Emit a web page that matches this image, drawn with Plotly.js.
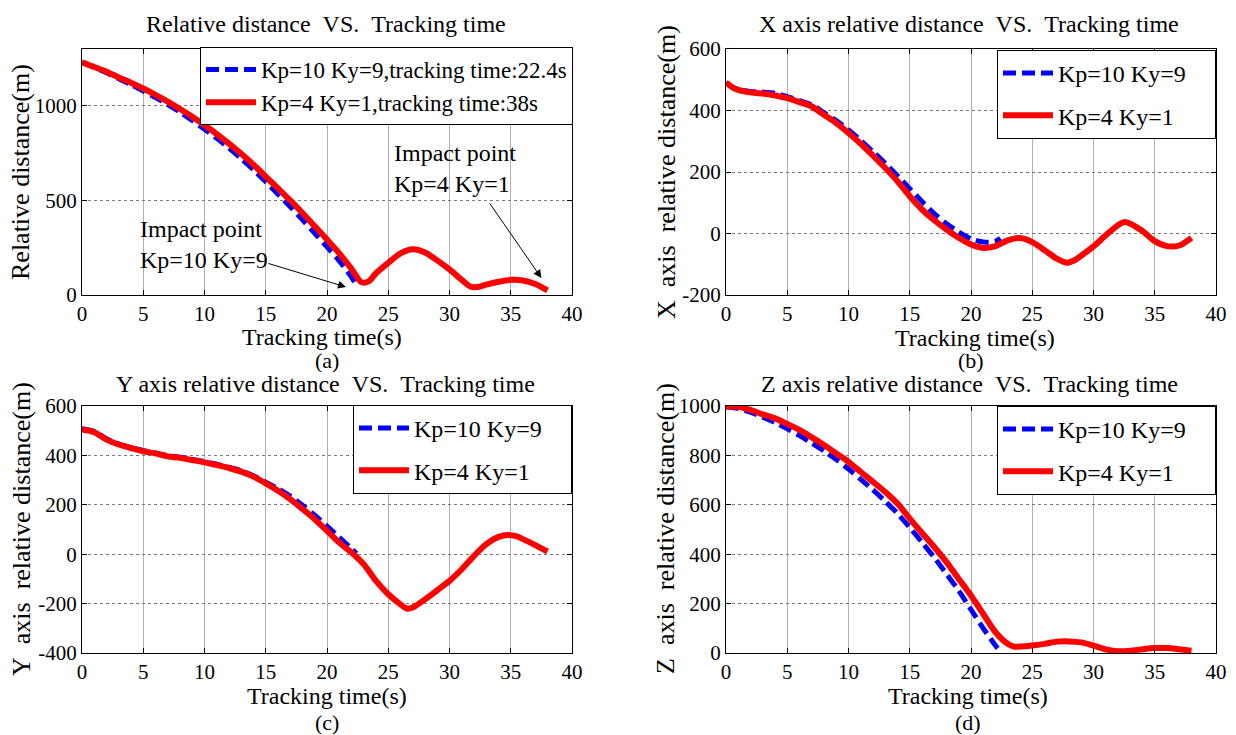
<!DOCTYPE html>
<html>
<head>
<meta charset="utf-8">
<script src="https://cdn.plot.ly/plotly-3.0.1.min.js"></script>
<style>html,body{margin:0;padding:0;background:#fff;}#chart{width:1236px;height:735px;}</style>
</head>
<body>
<div id="chart"></div>
<script>
// ---------- data ----------
// (a) relative distance
var tA_blue = [0,1,2,3,4,5,6,7,8,9,10,11,12,13,14,15,16,17,18,19,20,21,22,22.4];
var rA_blue = [1230,1202,1174,1143,1112,1078,1043,1006,966,922,876,828,776,720,661,598,533,466,397,326,254,180,95,50];
var tA_red = [0,1,2,3,4,5,6,7,8,9,10,11,12,13,14,15,16,17,18,19,20,21,22,22.8,23.4,24,25,26,27,28,29,30,31,31.7,32.3,33,34,35,36,37,38];
var rA_red = [1230,1205,1180,1150,1122,1091,1058,1022,983,942,898,850,800,746,688,626,563,500,433,363,293,220,138,68,72,115,170,220,242,225,183,135,80,45,42,55,70,80,77,58,25];

// (b) X axis relative distance
var tB_blue = [0,0.5,1,2,3,4,5,6,7,8,9,10,11,12,13,14,15,16,17,18,19,20,21,22,22.4];
var xB_blue = [491,476,468,462,460,456,445,432,418,393,367,337,303,266,228,188,146,104,65,32,5,-17,-28,-25,-15];
var tB_red = [0,0.5,1,2,3.5,5,6,7,8,9,10,11,12,13,14,15,16,17,18,19,20,21,22,23,24,25,26,27,27.8,28.5,29,30,31,32,32.5,33,34,35,36,37,38];
var xB_red = [491,476,467,459,453,440,427,413,386,359,327,292,253,213,170,121,78,43,13,-14,-36,-47,-41,-22,-15,-28,-54,-82,-95,-86,-72,-42,-6,27,37,32,8,-25,-41,-39,-14];

// (c) Y axis relative distance
var tC_blue = [0,1,2,3,4,5,6,7,8,9,10,11,12,13,14,15,16,17,18,19,20,21,22,22.4];
var yC_blue = [508,497,467,446,432,419,410,399,393,384,375,364,352,338,318,292,265,235,198,158,114,68,22,3];
var tC_red = [0,1,2,3,4,5,6,7,8,9,10,11,12,13,14,15,16,17,18,19,20,21,22,23,24,25,26,26.5,27,28,29,30,31,32,33,34,34.8,35.5,36,37,38];
var yC_red = [505,494,464,444,430,417,408,396,390,381,372,361,349,334,314,287,257,223,183,142,95,47,7,-41,-108,-162,-203,-220,-216,-183,-146,-108,-61,-7,41,70,78,72,61,37,11];

// (d) Z axis relative distance
var tD_blue = [0,1,2,3,4,5,6,7,8,9,10,11,12,13,14,15,16,17,18,19,20,21,22,22.4];
var zD_blue = [997,990,975,955,933,908,880,850,818,783,745,703,660,614,565,508,448,387,320,252,176,100,30,5];
var tD_red = [0,1,2,3,4,5,6,7,8,9,10,11,12,13,14,15,16,17,18,19,20,21,22,23,23.5,24,25,26,27,28,29,30,31,32,33,34,35,36,37,38];
var zD_red = [997,997,984,966,950,927,903,873,842,808,774,733,693,652,605,544,486,429,368,300,233,158,84,37,26,26,30,37,46,47,43,30,15,7,9,15,20,20,15,9];

// labels
var nameBlueA = 'Kp=10 Ky=9,tracking time:22.4s';
var nameRedA = 'Kp=4 Ky=1,tracking time:38s';
var nameBlue = 'Kp=10 Ky=9';
var nameRed = 'Kp=4 Ky=1';
var titles = ['Relative distance\u00a0\u00a0VS.\u00a0\u00a0Tracking time',
              'X axis relative distance\u00a0\u00a0VS.\u00a0\u00a0Tracking time',
              'Y axis relative distance\u00a0\u00a0VS.\u00a0\u00a0Tracking time',
              'Z axis relative distance\u00a0\u00a0VS.\u00a0\u00a0Tracking time'];
var yTitles = ['Relative distance(m)', 'X\u00a0\u00a0axis\u00a0\u00a0relative distance(m)',
               'Y\u00a0\u00a0axis\u00a0\u00a0relative distance(m)', 'Z\u00a0\u00a0axis\u00a0\u00a0relative distance(m)'];
var xTitle = 'Tracking time(s)';
var panelLabels = ['(a)', '(b)', '(c)', '(d)'];
var xTicks = [0,5,10,15,20,25,30,35,40];
var yTicksA = [0,500,1000];
var yTicksB = [-200,0,200,400,600];
var yTextB = ['-200','0','200','400','600'];
var yTicksC = [-400,-200,0,200,400,600];
var yTextC = ['-400','-200','0','200','400','600'];
var yTicksD = [0,200,400,600,800,1000];
var yTextD = ['0','200','400','600','800','1000'];

// ---------- styling ----------
var FONT = 'Liberation Serif';
var BLUE = '#0000ff', RED = '#ff0000';
var PAD = '\u00a0\u00a0\u00a0\u00a0'; // right padding inside the small legend boxes

function blueLine() { return {color: BLUE, width: 5, dash: '13px,6px', shape: 'spline', smoothing: 0.8}; }
function redLine() { return {color: RED, width: 6, shape: 'spline', smoothing: 0.8}; }

var traces = [
  {x: tA_blue, y: rA_blue, name: nameBlueA, xaxis: 'x', yaxis: 'y', legend: 'legend', legendgroup: 'a1', mode: 'lines', line: blueLine()},
  {x: tA_red, y: rA_red, name: nameRedA, xaxis: 'x', yaxis: 'y', legend: 'legend', legendgroup: 'a2', mode: 'lines', line: redLine()},
  {x: tB_blue, y: xB_blue, name: nameBlue + PAD, xaxis: 'x2', yaxis: 'y2', legend: 'legend2', legendgroup: 'b1', mode: 'lines', line: blueLine()},
  {x: tB_red, y: xB_red, name: nameRed, xaxis: 'x2', yaxis: 'y2', legend: 'legend2', legendgroup: 'b2', mode: 'lines', line: redLine()},
  {x: tC_blue, y: yC_blue, name: nameBlue + PAD, xaxis: 'x3', yaxis: 'y3', legend: 'legend3', legendgroup: 'c1', mode: 'lines', line: blueLine()},
  {x: tC_red, y: yC_red, name: nameRed, xaxis: 'x3', yaxis: 'y3', legend: 'legend3', legendgroup: 'c2', mode: 'lines', line: redLine()},
  {x: tD_blue, y: zD_blue, name: nameBlue + PAD, xaxis: 'x4', yaxis: 'y4', legend: 'legend4', legendgroup: 'd1', mode: 'lines', line: blueLine()},
  {x: tD_red, y: zD_red, name: nameRed, xaxis: 'x4', yaxis: 'y4', legend: 'legend4', legendgroup: 'd2', mode: 'lines', line: redLine()}
];

var W = 1236, H = 735;
function px(v) { return v / W; }
function py(v) { return 1 - v / H; }

function xAxis(dom, anchor) {
  return {domain: dom, anchor: anchor, range: [0, 40], tickvals: xTicks, ticks: 'inside', ticklen: 5,
    tickcolor: '#000', showline: true, linecolor: '#000', linewidth: 1, mirror: 'ticks',
    showgrid: true, gridcolor: '#b0b0b0', gridwidth: 1, zeroline: false,
    tickfont: {family: FONT, size: 21, color: '#000'}, fixedrange: true};
}
function yAxis(dom, anchor, range, vals, text) {
  var a = {domain: dom, anchor: anchor, range: range, tickvals: vals, ticks: 'inside', ticklen: 5,
    tickcolor: '#000', showline: true, linecolor: '#000', linewidth: 1, mirror: 'ticks',
    showgrid: true, gridcolor: '#7a7a7a', griddash: 'dot', gridwidth: 1, zeroline: false,
    tickfont: {family: FONT, size: 21, color: '#000'}, fixedrange: true};
  if (text) a.ticktext = text;
  return a;
}

var xL = [px(82), px(572)], xR = [px(726), px(1216)];
var yT = [py(295), py(49)], yB = [py(653), py(406)];

function legendAt(xRight, yTop, gap, fs) {
  return {x: xRight, y: yTop, xanchor: 'right', yanchor: 'top', bgcolor: '#fff', bordercolor: '#000', borderwidth: 1,
    font: {family: FONT, size: fs, color: '#000'}, itemwidth: 50, tracegroupgap: gap};
}

var ann = [];
function addText(text, x, y, size, extra) {
  var a = {text: text, xref: 'paper', yref: 'paper', x: px(x), y: py(y), showarrow: false,
    xanchor: 'center', yanchor: 'middle', font: {family: FONT, size: size, color: '#000'}};
  if (extra) for (var k in extra) a[k] = extra[k];
  ann.push(a);
}
// subplot titles
addText(titles[0], 326, 24, 24);
addText(titles[1], 969, 24, 24);
addText(titles[2], 326, 384, 24);
addText(titles[3], 969, 384, 24);
// x titles
addText(xTitle, 322, 337, 24);
addText(xTitle, 975, 338, 24);
addText(xTitle, 327, 696, 24);
addText(xTitle, 968, 696, 24);
// y titles
addText(yTitles[0], 20, 172, 26, {textangle: -90});
addText(yTitles[1], 666, 172, 26, {textangle: -90});
addText(yTitles[2], 21, 529, 26, {textangle: -90});
addText(yTitles[3], 665, 529, 26, {textangle: -90});
// panel labels
addText(panelLabels[0], 327, 360, 22);
addText(panelLabels[1], 971, 360, 22);
addText(panelLabels[2], 327, 722, 22);
addText(panelLabels[3], 968, 722, 22);
// impact point notes in (a)
addText('Impact point<br>Kp=10 Ky=9', 138, 245, 24, {xanchor: 'left', align: 'left'});
addText('Impact point<br>Kp=4 Ky=1', 392, 169, 24, {xanchor: 'left', align: 'left'});
ann.push({xref: 'x', yref: 'y', axref: 'x', ayref: 'y', x: 21.55, y: 42, ax: 15.1, ay: 169, text: '',
  showarrow: true, arrowhead: 2, arrowsize: 1.6, arrowwidth: 1, arrowcolor: '#000'});
ann.push({xref: 'x', yref: 'y', axref: 'x', ayref: 'y', x: 37.5, y: 90, ax: 33.2, ay: 492, text: '',
  showarrow: true, arrowhead: 2, arrowsize: 1.6, arrowwidth: 1, arrowcolor: '#000'});

var layout = {
  width: W, height: H, margin: {l: 0, r: 0, t: 0, b: 0}, paper_bgcolor: '#fff', plot_bgcolor: '#fff',
  font: {family: FONT, color: '#000'}, showlegend: true,
  xaxis: xAxis(xL, 'y'), yaxis: yAxis(yT, 'x', [0, 1300], yTicksA),
  xaxis2: xAxis(xR, 'y2'), yaxis2: yAxis(yT, 'x2', [-200, 600], yTicksB, yTextB),
  xaxis3: xAxis(xL, 'y3'), yaxis3: yAxis(yB, 'x3', [-400, 600], yTicksC, yTextC),
  xaxis4: xAxis(xR, 'y4'), yaxis4: yAxis(yB, 'x4', [0, 1000], yTicksD, yTextD),
  legend: legendAt(px(573), py(47), 0, 23),
  legend2: legendAt(px(1216), py(50), 8, 24),
  legend3: legendAt(px(572), py(405), 8, 24),
  legend4: legendAt(px(1216), py(406), 8, 24),
  annotations: ann
};

Plotly.newPlot('chart', traces, layout, {staticPlot: true, displayModeBar: false});
</script>
</body>
</html>
